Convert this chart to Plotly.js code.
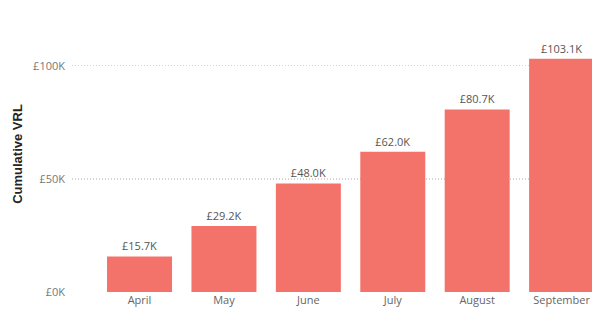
<!DOCTYPE html>
<html>
<head>
<meta charset="utf-8">
<script src="https://cdn.plot.ly/plotly-3.0.1.min.js"></script>
<style>html,body{margin:0;padding:0;background:#fff;}#chart{width:592px;height:312px;}</style>
</head>
<body>
<div id="chart"></div>
<script>
var months = ['April', 'May', 'June', 'July', 'August', 'September'];
var cumulativeVRL = [15700, 29200, 48000, 62000, 80700, 103100];
var yTickVals = [0, 50000, 100000];
var yTickText = ['£0K', '£50K', '£100K'];

var labels = cumulativeVRL.map(function (v) { return '£' + (v / 1000).toFixed(1) + 'K'; });

var trace = {
  type: 'bar',
  x: months,
  y: cumulativeVRL,
  text: labels,
  textposition: 'outside',
  cliponaxis: false,
  textfont: {family: 'Open Sans, sans-serif', size: 11, color: '#555555'},
  marker: {color: '#F3736A'},
  hoverinfo: 'none'
};

var layout = {
  width: 592,
  height: 312,
  margin: {l: 72, r: 0, t: 16, b: 20},
  paper_bgcolor: '#ffffff',
  plot_bgcolor: '#ffffff',
  showlegend: false,
  bargap: 0.23,
  xaxis: {
    type: 'category',
    range: [-0.8, 5.36],
    showgrid: false,
    zeroline: false,
    showline: false,
    ticks: '',
    tickfont: {family: 'Open Sans, sans-serif', size: 11, color: '#666666'},
    ticklabelstandoff: 0
  },
  yaxis: {
    range: [0, 122000],
    tickvals: yTickVals,
    ticktext: yTickText,
    showgrid: true,
    gridcolor: '#d4d4d4',
    griddash: '1px,2px',
    gridwidth: 1.3,
    zeroline: false,
    showline: false,
    ticks: '',
    ticklabelstandoff: 6,
    tickfont: {family: 'Open Sans, sans-serif', size: 11, color: '#777777'},
    title: {text: 'Cumulative VRL', standoff: 7, font: {family: 'Liberation Sans, Arial, sans-serif', size: 13, color: '#252423', weight: 'bold'}},
    automargin: false
  }
};

Plotly.newPlot('chart', [trace], layout, {displayModeBar: false, staticPlot: true});
</script>
</body>
</html>
